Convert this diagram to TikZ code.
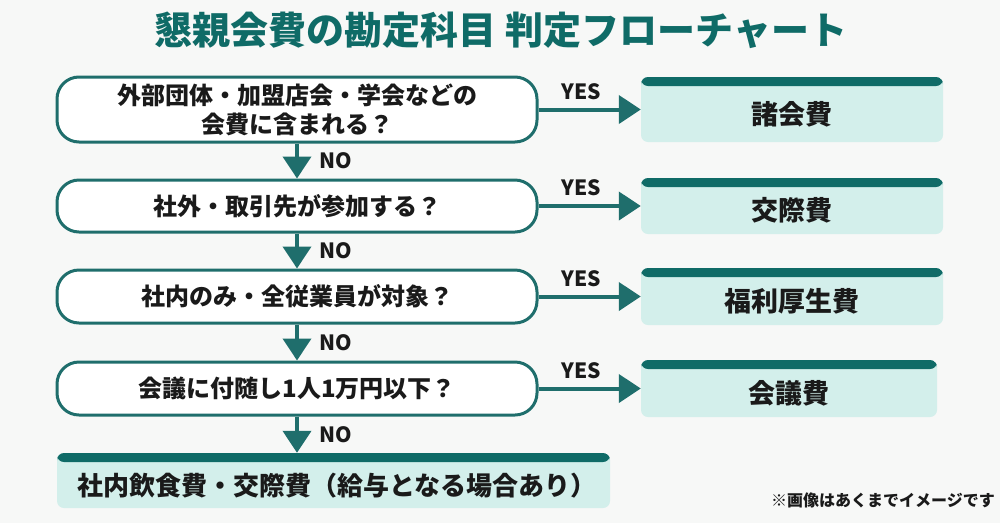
\documentclass[tikz,border=0pt]{standalone}
\usepackage{fontspec}
\setmainfont{Noto Sans CJK JP}
\usetikzlibrary{positioning,arrows.meta}
\definecolor{tealdark}{HTML}{0F6B67}
\definecolor{tealline}{HTML}{1F6E6C}
\definecolor{mint}{HTML}{D3EFEB}
\definecolor{paper}{HTML}{F7F8F7}
\definecolor{ink}{HTML}{1A1A1A}
\begin{document}
\begin{tikzpicture}[x=1pt,y=-1pt,
  question/.style={draw=tealline,line width=3pt,fill=white,rounded corners=22pt,inner sep=0pt,
    minimum width=480pt,align=center,text=ink,font=\fontsize{24}{29}\selectfont\bfseries},
  result/.style={fill=mint,rounded corners=7pt,inner sep=0pt,text=ink,text height=30pt,text depth=1pt,
    font=\fontsize{27}{30}\selectfont\bfseries,
    path picture={\fill[tealdark] (path picture bounding box.north west)
      rectangle ([yshift=-9pt]path picture bounding box.north east);}},
  flow/.style={-{Triangle[width=28pt,length=22pt]},line width=4pt,draw=tealline},
  answer/.style={font=\fontsize{21}{21}\selectfont\bfseries,text=ink,inner sep=0pt}]
\fill[paper] (0,0) rectangle (1000,523);
\node[font=\fontsize{38}{40}\selectfont\bfseries,text=tealdark] (title) at (501,30) {懇親会費の勘定科目 判定フローチャート};
% questions
\node[question,minimum height=65pt] (q1) at (297,109.5) {外部団体・加盟店会・学会などの\\会費に含まれる？};
\node[question,minimum height=52pt] (q2) at (297,206) {社外・取引先が参加する？};
\node[question,minimum height=53pt] (q3) at (297,296.5) {社内のみ・全従業員が対象？};
\node[question,minimum height=53pt] (q4) at (297,388.5) {会議に付随し1人1万円以下？};
% results
\node[result,minimum width=302pt,minimum height=65pt] (r1) at (792,109.5) {諸会費};
\node[result,minimum width=302pt,minimum height=56pt] (r2) at (792,206) {交際費};
\node[result,minimum width=302pt,minimum height=57pt] (r3) at (792,296.5) {福利厚生費};
\node[result,minimum width=296pt,minimum height=57pt] (r4) at (789,388.5) {会議費};
\node[result,text width=513pt,inner xsep=20pt,align=left,minimum height=55pt,font=\fontsize{26}{28}\selectfont\bfseries] (last) at (333.5,480.5) {社内飲食費・交際費（給与となる場合あり）};
% arrows
\draw[flow] (q1) -- node[answer,above=8pt,pos=0.42] {YES} (r1);
\draw[flow] (q2) -- node[answer,above=8pt,pos=0.42] {YES} (r2);
\draw[flow] (q3) -- node[answer,above=8pt,pos=0.42] {YES} (r3);
\draw[flow] (q4) -- node[answer,above=8pt,pos=0.42] {YES} (r4);
\draw[flow] (q1) -- node[answer,right=20pt] {NO} (q2);
\draw[flow] (q2) -- node[answer,right=20pt] {NO} (q3);
\draw[flow] (q3) -- node[answer,right=20pt] {NO} (q4);
\draw[flow] (q4.south) -- node[answer,right=20pt] {NO} (q4.south |- last.north);
\node[font=\fontsize{16}{16}\selectfont\bfseries,text=ink,anchor=east,inner sep=0pt] (note) at (995,500) {※画像はあくまでイメージです};
\end{tikzpicture}
\end{document}
